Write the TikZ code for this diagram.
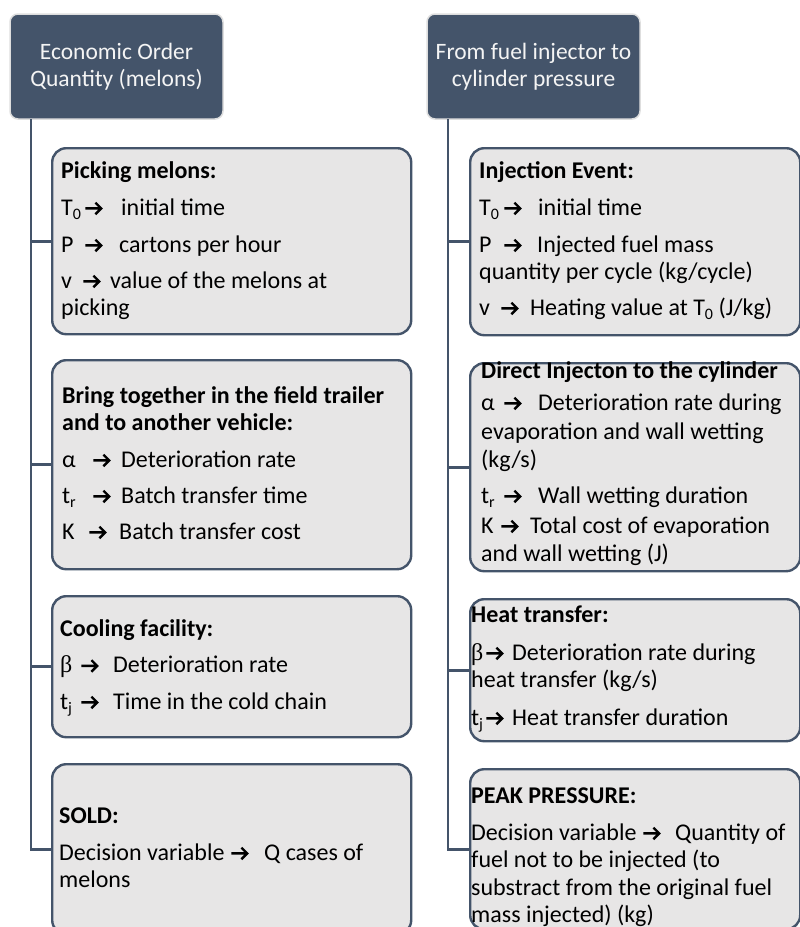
\documentclass[tikz,border=0pt]{standalone}
\usepackage{fontspec}
\setmainfont{Carlito}
\newfontfamily\grkfont{Liberation Serif}
\definecolor{slate}{HTML}{44546A}
\definecolor{boxfill}{HTML}{E7E6E6}
\definecolor{hdrline}{HTML}{DEDEDE}
\definecolor{hdrtext}{HTML}{F4F4F4}
\tikzset{
  hdr/.style={draw=hdrline, line width=1.5pt, fill=slate, rounded corners=8pt,
    text=hdrtext, font=\fontsize{23.5}{27}\selectfont, align=center, inner sep=0pt,
    minimum width=213pt, minimum height=105pt},
  itembox/.style={draw=slate, line width=2.4pt, fill=boxfill, rounded corners=14pt,
    inner sep=0pt, anchor=north west},
  conn/.style={draw=slate, line width=2.6pt},
  txt/.style={inner sep=0pt, anchor=base west, font=\fontsize{24}{28}\selectfont, text=black},
  ttl/.style={txt, font=\fontsize{24}{28}\selectfont\bfseries},
  arrowline/.style={line width=2.4pt, draw=black, line cap=butt, line join=miter},
}
\newcommand\arr{\tikz[baseline=0pt,x=1pt,y=1pt]{\draw[arrowline] (0,6.6)--(15.6,6.6) (10,12.4)--(15.8,6.6)--(10,0.8);}}
\newcommand\sub[1]{\raisebox{-4.5pt}{\fontsize{16}{16}\selectfont #1}}
\newcommand\vl[4]{\makebox[#2pt][l]{#1}\makebox[#3pt][l]{\arr}#4}
\newcommand\bet{{\grkfont β}}
\begin{document}
\begin{tikzpicture}[x=1pt,y=-1pt]
\useasboundingbox (0,0) rectangle (800,927);

% headers
\node[hdr] (h1) at (116.5,66.5) {Economic Order\\Quantity (melons)};
\node[hdr] (h2) at (533.5,66.5) {From fuel injector to\\cylinder pressure};

% left boxes
\node[itembox, minimum width=359pt, minimum height=186pt] (b1) at (51,147) {};
\node[itembox, minimum width=359pt, minimum height=209pt] (b2) at (51,359) {};
\node[itembox, minimum width=359pt, minimum height=141pt] (b3) at (51,595) {};
\node[itembox, minimum width=359pt, minimum height=170pt] (b4) at (51,763) {};

% right boxes
\node[itembox, minimum width=330pt, minimum height=187pt] (r1) at (469,147) {};
\node[itembox, minimum width=330pt, minimum height=208pt] (r2) at (469,362) {};
\node[itembox, minimum width=330pt, minimum height=142pt] (r3) at (469,598) {};
\node[itembox, minimum width=330pt, minimum height=160pt] (r4) at (469,768) {};

% connectors
\coordinate (v1) at (31,119);
\coordinate (v2) at (448,119);
\draw[conn] (v1) |- (b1.west);
\draw[conn] (v1) |- (b2.west);
\draw[conn] (v1) |- (b3.west);
\draw[conn] (v1) |- (b4.west);
\draw[conn] (v2) |- (r1.west);
\draw[conn] (v2) |- (r2.west);
\draw[conn] (v2) |- (r3.west);
\draw[conn] (v2) |- (r4.west);

% left box 1
\node[ttl] (b1t) at (61,178) {Picking melons:};
\node[txt] (b1a) at (61,215) {\vl{T\sub{0}}{23}{37}{initial time}};
\node[txt] (b1b) at (61,252) {\vl{P}{23}{35}{cartons per hour}};
\node[txt] (b1c) at (61,288) {\vl{v}{21}{28}{value of the melons at}};
\node[txt] (b1d) at (61,315) {picking};

% left box 2
\node[ttl] (b2t) at (62,403) {Bring together in the field trailer};
\node[ttl] (b2u) at (62,430) {and to another vehicle:};
\node[txt] (b2a) at (62,467) {\vl{α}{30}{29}{Deterioration rate}};
\node[txt] (b2b) at (62,503) {\vl{t\sub{r}}{30}{29}{Batch transfer time}};
\node[txt] (b2c) at (62,539) {\vl{K}{26}{31}{Batch transfer cost}};

% left box 3
\node[ttl] (b3t) at (60,636) {Cooling facility:};
\node[txt] (b3a) at (60,672.5) {\vl{\bet}{20}{33}{Deterioration rate}};
\node[txt] (b3b) at (60,709) {\vl{t\sub{j}}{20}{33}{Time in the cold chain}};

% left box 4
\node[ttl] (b4t) at (59,823) {SOLD:};
\node[txt] (b4a) at (59,860) {\vl{Decision variable}{171}{34}{Q cases of}};
\node[txt] (b4b) at (59,887) {melons};

% right box 1
\node[ttl] (r1t) at (479,178) {Injection Event:};
\node[txt] (r1a) at (479,215) {\vl{T\sub{0}}{24}{35}{initial time}};
\node[txt] (r1b) at (479,252) {\vl{P}{24}{34}{Injected fuel mass}};
\node[txt] (r1c) at (479,279) {quantity per cycle (kg/cycle)};
\node[txt] (r1d) at (479,315) {\vl{v}{21}{30}{Heating value at T\sub{0} (J/kg)}};

% right box 2
\node[ttl] (r2t) at (481,378) {Direct Injecton to the cylinder};
\node[txt] (r2a) at (481,410) {\vl{α}{22}{35}{Deterioration rate during}};
\node[txt] (r2b) at (481,439) {evaporation and wall wetting};
\node[txt] (r2c) at (481,467) {(kg/s)};
\node[txt] (r2d) at (481,503) {\vl{t\sub{r}}{22}{35}{Wall wetting duration}};
\node[txt] (r2e) at (481,533) {\vl{K}{19}{30}{Total cost of evaporation}};
\node[txt] (r2f) at (481,561) {and wall wetting (J)};

% right box 3
\node[ttl] (r3t) at (471,622) {Heat transfer:};
\node[txt] (r3a) at (471,660) {\vl{\bet}{14}{27}{Deterioration rate during}};
\node[txt] (r3b) at (471,687) {heat transfer (kg/s)};
\node[txt] (r3c) at (471,725) {\vl{t\sub{j}}{14}{27}{Heat transfer duration}};

% right box 4
\node[ttl] (r4t) at (471,803) {PEAK PRESSURE:};
\node[txt] (r4a) at (471,840) {\vl{Decision variable}{171}{33}{Quantity of}};
\node[txt] (r4b) at (471,867.5) {fuel not to be injected (to};
\node[txt] (r4c) at (471,895) {substract from the original fuel};
\node[txt] (r4d) at (471,922.5) {mass injected) (kg)};
\end{tikzpicture}
\end{document}
